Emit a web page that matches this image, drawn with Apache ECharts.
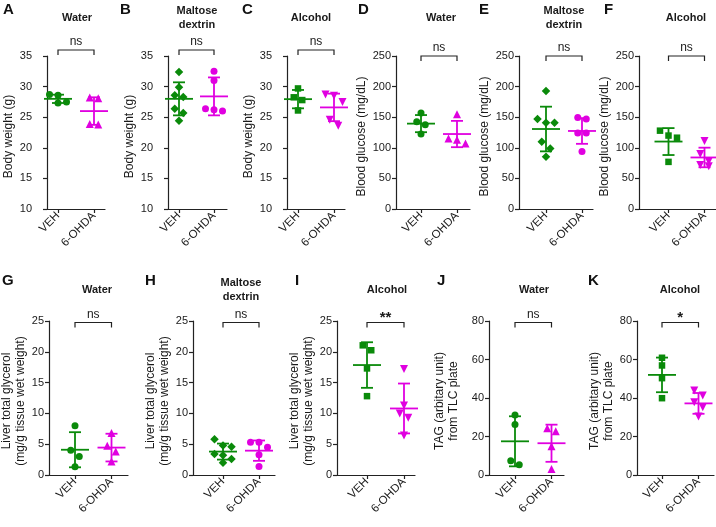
<!DOCTYPE html>
<html><head><meta charset="utf-8">
<script src="https://cdn.jsdelivr.net/npm/echarts@6/dist/echarts.min.js"></script>
<style>html,body{margin:0;padding:0;background:#fff}#c{width:716px;height:527px}</style>
</head><body><div id="c"></div>
<script>
// ---- data ----
const groups = ['VEH', '6-OHDA'];
const aVeh = [28.7, 28.6, 27.3, 27.5];
const aOhda = [28.2, 28.1, 23.8, 23.9];
const aMean = [28.0, 26.0], aSD = [0.68, 2.25];
const bVeh = [32.4, 29.9, 28.3, 28.6, 26.4, 25.7, 24.4];
const bOhda = [32.5, 31.0, 26.4, 26.0, 26.2];
const bMean = [28.0, 28.4], bSD = [2.7, 3.1];
const cVeh = [29.7, 28.25, 27.8, 26.1];
const cOhda = [28.7, 28.5, 27.5, 24.6, 23.6];
const cMean = [27.95, 26.6], cSD = [1.5, 2.25];
const dVeh = [157, 142.5, 137.5, 122.5];
const dOhda = [155, 115, 113, 107];
const dMean = [139.5, 122.5], dSD = [14, 21.5];
const eVeh = [193, 147, 141, 141, 110, 99, 85.5];
const eOhda = [147, 149.5, 124, 124, 94];
const eMean = [130.7, 127.5], eSD = [36.5, 21];
const fVeh = [120, 128, 116.5, 77];
const fOhda = [111, 90, 78, 70, 72];
const fMean = [110.2, 84.2], fSD = [22, 16];
const gVeh = [8.0, 4.0, 3.0, 1.35];
const gOhda = [6.8, 4.75, 3.8, 2.2];
const gMean = [4.1, 4.45], gSD = [2.85, 2.25];
const hVeh = [5.8, 4.6, 4.8, 3.4, 3.2, 2.6, 2.0];
const hOhda = [5.3, 5.3, 4.5, 3.3, 1.4];
const hMean = [3.8, 3.95], hSD = [1.3, 1.65];
const iVeh = [20.25, 21.05, 17.3, 12.8];
const iOhda = [17.2, 11.3, 10.0, 9.3, 6.4];
const iMean = [17.85, 10.8], iSD = [3.7, 4.05];
const jVeh = [31.2, 26.2, 7.4, 5.35];
const jOhda = [22.7, 24.3, 14.9, 3.1];
const jMean = [17.5, 16.5], jSD = [13.0, 9.65];
const kVeh = [60.9, 56.9, 50.3, 39.9];
const kOhda = [43.9, 41.3, 37.8, 35.2, 30.4];
const kMean = [52, 37.2], kSD = [9.0, 5.4];
const yBW = [10, 35, 5], yBG = [0, 250, 50], yLG = [0, 25, 5], yTAG = [0, 80, 20];

// ---- layout / styles ----
const FONT = '"Liberation Sans", Arial, sans-serif';
const TXT = '#1a1a1a', AX = '#222';
const GREEN = '#0a8a0a', MAG = '#e000e0';
const T1 = 'Body weight (g)', T2 = 'Blood glucose (mg/dL)',
      T3 = 'Liver total glycerol\n(mg/g tissue wet weight)', T4 = 'TAG (arbitary unit)\nfrom TLC plate';
const WATER = 'Water', MALT = 'Maltose\ndextrin', ALC = 'Alcohol';
const R1 = {top: 56, bottom: 209}, R2 = {top: 321, bottom: 475};

const panels = [
 {L:'A', lx:3,   veh:aVeh, ohda:aOhda, mean:aMean, sd:aSD, y:yBW, row:R1, ax:47,  cv:58,  co:94,  rt:105, name:T1, gap:31, lm:15, sh:4, bd:-6, sig:'ns', title:WATER, tx:77,  sym:['circle','triangle']},
 {L:'B', lx:120, veh:bVeh, ohda:bOhda, mean:bMean, sd:bSD, y:yBW, row:R1, ax:168, cv:179, co:214, rt:227, name:T1, gap:31, lm:15, sh:4, bd:-6, sig:'ns', title:MALT,  tx:197, sym:['diamond','circle']},
 {L:'C', lx:242, veh:cVeh, ohda:cOhda, mean:cMean, sd:cSD, y:yBW, row:R1, ax:287, cv:298, co:334, rt:345, name:T1, gap:31, lm:15, sh:4, bd:-6, sig:'ns', title:ALC,   tx:311, sym:['rect','tridown']},
 {L:'D', lx:358, veh:dVeh, ohda:dOhda, mean:dMean, sd:dSD, y:yBG, row:R1, ax:396, cv:421, co:457, rt:470, name:T2, gap:25, lm:5,  sh:4, bd:0,  sig:'ns', title:WATER, tx:441, sym:['circle','triangle']},
 {L:'E', lx:479, veh:eVeh, ohda:eOhda, mean:eMean, sd:eSD, y:yBG, row:R1, ax:519, cv:546, co:582, rt:593, name:T2, gap:23, lm:5,  sh:4, bd:0,  sig:'ns', title:MALT,  tx:564, sym:['diamond','circle']},
 {L:'F', lx:604, veh:fVeh, ohda:fOhda, mean:fMean, sd:fSD, y:yBG, row:R1, ax:639, cv:668.5, co:704.5, rt:716, name:T2, gap:23, lm:5, sh:4, bd:0, sig:'ns', title:ALC, tx:686, sym:['rect','tridown']},
 {L:'G', lx:2,   veh:gVeh, ohda:gOhda, mean:gMean, sd:gSD, y:yLG, row:R2, ax:49,  cv:75,  co:111.5, rt:128, name:T3, gap:19, lm:5, sh:3, bd:1.5, sig:'ns', title:WATER, tx:97, sym:['circle','triangle']},
 {L:'H', lx:145, veh:hVeh, ohda:hOhda, mean:hMean, sd:hSD, y:yLG, row:R2, ax:193, cv:223, co:259, rt:275, name:T3, gap:21, lm:5, sh:3, bd:1.5, sig:'ns', title:MALT, tx:241, sym:['diamond','circle']},
 {L:'I', lx:295, veh:iVeh, ohda:iOhda, mean:iMean, sd:iSD, y:yLG, row:R2, ax:337, cv:367, co:404, rt:415, name:T3, gap:19, lm:5, sh:3, bd:1.5, sig:'**', title:ALC, tx:387, sym:['rect','tridown']},
 {L:'J', lx:437, veh:jVeh, ohda:jOhda, mean:jMean, sd:jSD, y:yTAG, row:R2, ax:489, cv:515, co:551.5, rt:564, name:T4, gap:28, lm:5, sh:3, bd:1.5, sig:'ns', title:WATER, tx:534, sym:['circle','triangle']},
 {L:'K', lx:588, veh:kVeh, ohda:kOhda, mean:kMean, sd:kSD, y:yTAG, row:R2, ax:637, cv:662, co:698.5, rt:714, name:T4, gap:18, lm:5, sh:3, bd:1.5, sig:'*', title:ALC, tx:680, sym:['rect','tridown']}
];

function swarm(values, pxPerY, pxPerX, diam, step) {
  const idx = values.map((v, i) => i).sort((a, b) => values[b] - values[a]);
  const rows = []; let cur = null;
  idx.forEach(i => {
    if (cur && (values[cur[0]] - values[i]) * pxPerY < diam) cur.push(i);
    else { cur = [i]; rows.push(cur); }
  });
  const off = new Array(values.length).fill(0);
  rows.forEach(r => r.forEach((i, k) => { off[i] = (k - (r.length - 1) / 2) * step / pxPerX; }));
  return off;
}
function symOf(s) {
  if (s === 'tridown') return {symbol: 'triangle', symbolRotate: 180, symbolSize: 8};
  if (s === 'triangle') return {symbol: 'triangle', symbolRotate: 0, symbolSize: 8};
  if (s === 'diamond') return {symbol: 'diamond', symbolRotate: 0, symbolSize: 8.5};
  if (s === 'rect') return {symbol: 'rect', symbolRotate: 0, symbolSize: 6.5};
  return {symbol: 'circle', symbolRotate: 0, symbolSize: 7};
}

const option = {animation: false, backgroundColor: '#fff', grid: [], xAxis: [], yAxis: [], series: [], graphic: []};
panels.forEach((p, i) => {
  const sp = p.co - p.cv;
  const xmin = -(p.cv - p.ax) / sp, xmax = 1 + (p.rt - p.co) / sp;
  const w = p.rt - p.ax, h = p.row.bottom - p.row.top;
  const [ymin, ymax, yint] = p.y;
  const pxY = h / (ymax - ymin), pxX = w / (xmax - xmin);
  option.grid.push({left: p.ax, top: p.row.top, width: w, height: h, containLabel: false, outerBoundsMode: 'none'});
  const ls = {color: AX, width: 1.2};
  option.xAxis.push({type: 'value', gridIndex: i, min: xmin, max: xmax,
    axisLine: {show: true, onZero: false, lineStyle: ls}, splitLine: {show: false},
    axisTick: {show: true, length: 4, customValues: [0, 1], lineStyle: ls},
    axisLabel: {customValues: [0, 1], formatter: v => groups[Math.round(v)] || '', rotate: 45, margin: 5,
      fontSize: 11.5, color: TXT, fontFamily: FONT}});
  option.yAxis.push({type: 'value', gridIndex: i, min: ymin, max: ymax, interval: yint,
    axisLine: {show: true, onZero: false, lineStyle: ls}, splitLine: {show: false},
    axisTick: {show: true, length: 4, lineStyle: ls},
    axisLabel: {margin: p.lm, fontSize: 11, color: TXT, fontFamily: FONT},
    name: p.name, nameLocation: 'middle', nameGap: p.gap,
    nameTextStyle: {fontSize: 12, lineHeight: 14, color: TXT, fontFamily: FONT, padding: [0, 2 * p.sh, 0, 0]}});
  const offV = swarm(p.veh, pxY, pxX, 7.5, 8.5), offO = swarm(p.ohda, pxY, pxX, 7.5, 8.5);
  const sv = symOf(p.sym[0]), so = symOf(p.sym[1]);
  option.series.push(Object.assign({type: 'scatter', xAxisIndex: i, yAxisIndex: i, z: 3,
    data: p.veh.map((v, k) => [offV[k], v]), itemStyle: {color: GREEN, opacity: 1}}, sv));
  option.series.push(Object.assign({type: 'scatter', xAxisIndex: i, yAxisIndex: i, z: 3,
    data: p.ohda.map((v, k) => [1 + offO[k], v]), itemStyle: {color: MAG, opacity: 1}}, so));
  option.series.push({type: 'custom', xAxisIndex: i, yAxisIndex: i, z: 4,
    data: [[0, p.mean[0], p.sd[0]], [1, p.mean[1], p.sd[1]]],
    renderItem: (params, api) => {
      const x = api.value(0), m = api.value(1), s = api.value(2);
      const c = api.coord([x, m]), t = api.coord([x, m + s]), b = api.coord([x, m - s]);
      const st = {stroke: x < 0.5 ? GREEN : MAG, lineWidth: 1.8, fill: null};
      return {type: 'group', children: [
        {type: 'line', shape: {x1: c[0] - 14, y1: c[1], x2: c[0] + 14, y2: c[1]}, style: st},
        {type: 'line', shape: {x1: c[0], y1: t[1], x2: c[0], y2: b[1]}, style: st},
        {type: 'line', shape: {x1: c[0] - 6, y1: t[1], x2: c[0] + 6, y2: t[1]}, style: st},
        {type: 'line', shape: {x1: c[0] - 6, y1: b[1], x2: c[0] + 6, y2: b[1]}, style: st}
      ]};
    }});
  option.series.push({type: 'custom', xAxisIndex: i, yAxisIndex: i, z: 4, data: [[0, ymax]],
    renderItem: (params, api) => {
      const a = api.coord([0, ymax]), b = api.coord([1, ymax]);
      const y = a[1] + p.bd;
      const star = p.sig !== 'ns';
      return {type: 'group', children: [
        {type: 'polyline', shape: {points: [[a[0], y + 5], [a[0], y], [b[0], y], [b[0], y + 5]]},
          style: {stroke: AX, lineWidth: 1.2, fill: null}},
        {type: 'text', style: {text: p.sig, x: (a[0] + b[0]) / 2, y: star ? y + 3 : y - 2, align: 'center',
          verticalAlign: 'bottom', font: (star ? 'bold 15px ' : '12px ') + FONT, fill: TXT}}
      ]};
    }});
  const ty = p.row === R1 ? 18 : 290;
  option.graphic.push({type: 'text', x: p.tx, y: ty, style: {text: p.title, align: 'center', verticalAlign: 'middle',
    font: 'bold 11px ' + FONT, lineHeight: 13.5, fill: TXT}});
  option.graphic.push({type: 'text', x: p.lx, y: p.row === R1 ? 10 : 281, style: {text: p.L, align: 'left',
    verticalAlign: 'middle', font: 'bold 15px ' + FONT, fill: '#111'}});
});
const chart = echarts.init(document.getElementById('c'));
chart.setOption(option);
</script></body></html>
